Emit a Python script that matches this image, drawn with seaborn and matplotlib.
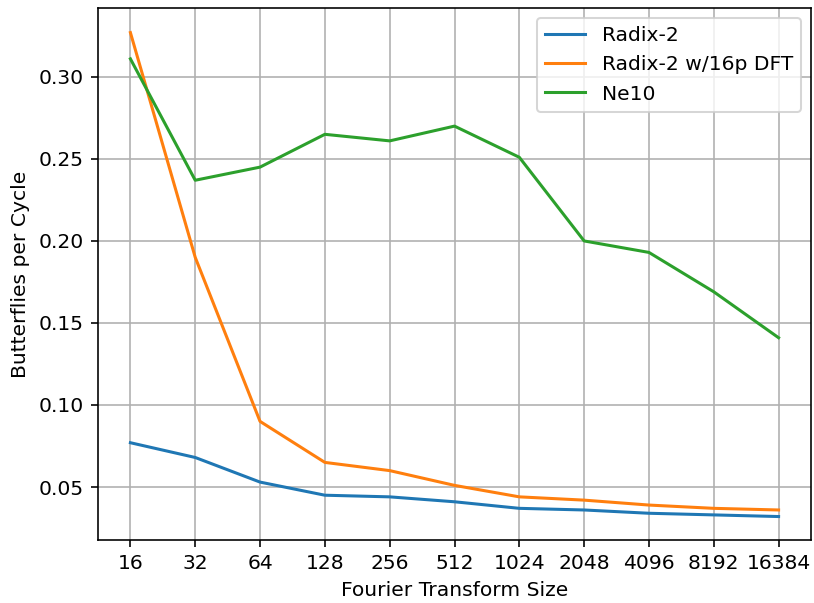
import matplotlib
matplotlib.use("Agg")
import matplotlib.pyplot as plt
import seaborn as sns
import pandas as pd

sizes = ["16", "32", "64", "128", "256", "512", "1024", "2048", "4096", "8192", "16384"]
radix2 = [0.077, 0.068, 0.053, 0.045, 0.044, 0.041, 0.037, 0.036, 0.034, 0.033, 0.032]
radix2_dft = [0.327, 0.190, 0.090, 0.065, 0.060, 0.051, 0.044, 0.042, 0.039, 0.037, 0.036]
ne10 = [0.311, 0.237, 0.245, 0.265, 0.261, 0.270, 0.251, 0.200, 0.193, 0.169, 0.141]
series_names = ["Radix-2", "Radix-2 w/16p DFT", "Ne10"]

rows = []
for name, vals in zip(series_names, [radix2, radix2_dft, ne10]):
    for i, (s, v) in enumerate(zip(sizes, vals)):
        rows.append({"pos": i, "size": s, "value": v, "series": name})
df = pd.DataFrame(rows)

DPI = 146
plt.rcParams["font.family"] = ["DejaVu Sans"]
fig = plt.figure(figsize=(814 / DPI, 603 / DPI), dpi=DPI)
ax = fig.add_axes([98 / 814, 1 - 540 / 603, (811 - 98) / 814, (540 - 8) / 603])

palette = ["#1f77b4", "#ff7f0e", "#2ca02c"]
sns.lineplot(data=df, x="pos", y="value", hue="series", hue_order=series_names,
             palette=palette, linewidth=1.5, ax=ax)

ax.set_xticks(range(len(sizes)))
ax.set_xticklabels(sizes)
ax.set_yticks([0.05, 0.10, 0.15, 0.20, 0.25, 0.30])
ax.set_yticklabels(["0.05", "0.10", "0.15", "0.20", "0.25", "0.30"])
ax.set_xlim(-0.5, 10.5)
ax.set_ylim(0.0177, 0.342)
ax.grid(True, color="#b0b0b0", linewidth=0.8)
ax.set_axisbelow(True)
ax.set_xlabel("Fourier Transform Size")
ax.set_ylabel("Butterflies per Cycle")
ax.legend(title=None, loc="upper right")

fig.savefig("out.png", dpi=DPI)
